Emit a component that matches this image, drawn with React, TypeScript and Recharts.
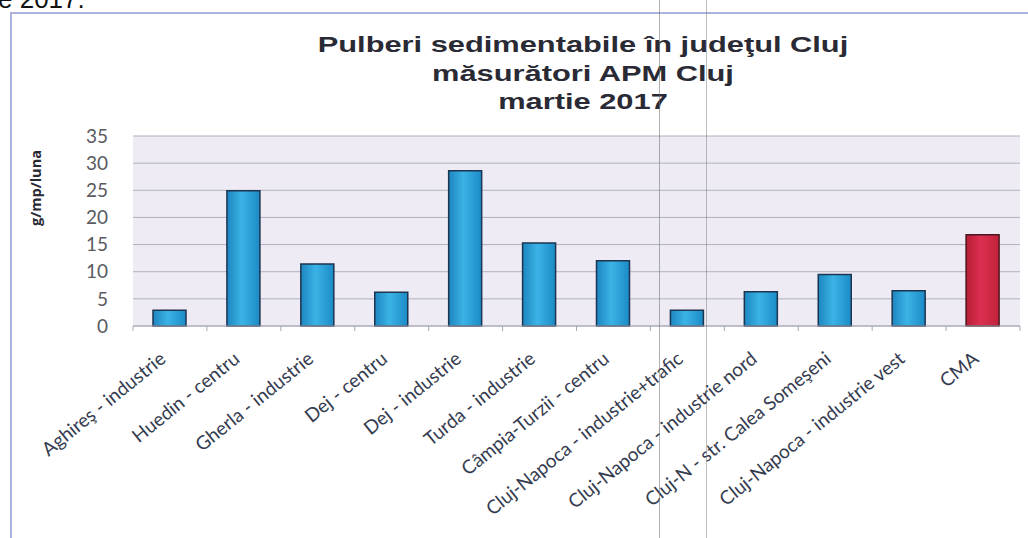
import { Bar, BarChart, CartesianGrid, Cell, XAxis, YAxis } from "recharts";

const stations = [
  "Aghireş - industrie",
  "Huedin - centru",
  "Gherla - industrie",
  "Dej - centru",
  "Dej - industrie",
  "Turda - industrie",
  "Câmpia-Turzii - centru",
  "Cluj-Napoca - industrie+trafic",
  "Cluj-Napoca - industrie nord",
  "Cluj-N - str. Calea Someşeni",
  "Cluj-Napoca - industrie vest",
  "CMA",
];
const values = [2.9, 24.9, 11.4, 6.2, 28.6, 15.3, 12.0, 2.9, 6.3, 9.5, 6.5, 16.8];
const yTicks = [0, 5, 10, 15, 20, 25, 30, 35];
const titleLines = ["Pulberi sedimentabile în judeţul Cluj", "măsurători APM Cluj", "martie 2017"];

const data = stations.map((name, i) => ({ name, value: values[i] }));

const XTick = (props: any) => {
  const { x, y, payload, index, width, visibleTicksCount } = props;
  const step = width && visibleTicksCount ? width / visibleTicksCount : 74;
  const isLast = index === stations.length - 1;
  return (
    <g>
      <line x1={x - step / 2} x2={x - step / 2} y1={y} y2={y + 5} stroke="#a8a8b8" />
      {isLast && <line x1={x + step / 2} x2={x + step / 2} y1={y} y2={y + 5} stroke="#a8a8b8" />}
      <text
        transform={`translate(${x - 3},${y + 35}) rotate(-39)`}
        textAnchor="end"
        fontSize={19}
        fill="#353c50"
        fontFamily="Lato, sans-serif"
      >
        {payload.value}
      </text>
    </g>
  );
};

const App = () => {
  return (
    <div style={{ position: "absolute", left: 0, top: 0, width: 1028, height: 538, background: "#fff", overflow: "hidden" }}>
      {/* bit of the document text above the chart */}
      <div style={{ position: "absolute", left: -2, top: -16, fontFamily: "'Liberation Sans', Arial, sans-serif", fontSize: 26, color: "#111" }}>
        e 2017.
      </div>
      {/* chart frame */}
      <div style={{ position: "absolute", left: 10, top: 12, width: 1040, height: 560, borderLeft: "2px solid #aab4dc", borderTop: "2px solid #aab4dc" }} />

      <div style={{ position: "absolute", left: 283, top: 31, width: 600, textAlign: "center", fontFamily: "'Liberation Sans', Arial, sans-serif", fontWeight: "bold", fontSize: 22, lineHeight: "28.5px", color: "#2a2a35", transform: "scaleX(1.4)", transformOrigin: "300px 0" }}>
        {titleLines.map((t) => (
          <div key={t}>{t}</div>
        ))}
      </div>

      <div style={{ position: "absolute", left: 0, top: 0 }}>
        <BarChart width={1028} height={538} data={data} margin={{ top: 136, right: 8, bottom: 182, left: 0 }} barSize={33}>
          <defs>
            <linearGradient id="blueBar" x1="0" y1="0" x2="1" y2="0">
              <stop offset="0%" stopColor="#1d86c0" />
              <stop offset="45%" stopColor="#3bb3e6" />
              <stop offset="100%" stopColor="#1b8ac6" />
            </linearGradient>
            <linearGradient id="redBar" x1="0" y1="0" x2="1" y2="0">
              <stop offset="0%" stopColor="#b81c35" />
              <stop offset="45%" stopColor="#dc3050" />
              <stop offset="100%" stopColor="#c0213b" />
            </linearGradient>
          </defs>
          <CartesianGrid vertical={false} stroke="#b0b0c0" fill="#eeebf4" fillOpacity={1} />
          <XAxis
            dataKey="name"
            interval={0}
            tickSize={0}
            tickMargin={0}
            tickLine={false}
            axisLine={{ stroke: "#a8a8b8" }}
            tick={<XTick />}
          />
          <YAxis
            width={133}
            domain={[0, 35]}
            ticks={yTicks}
            interval={0}
            tickSize={0}
            tickMargin={25}
            axisLine={false}
            tickLine={false}
            tick={{ fontSize: 19, fill: "#5a5a60", fontFamily: "Lato, sans-serif" }}
            label={{
              content: () => (
                <text
                  transform="translate(41,188) rotate(-90)"
                  textAnchor="middle"
                  fontSize={14.5}
                  fontWeight="bold"
                  fill="#2a2a35"
                  fontFamily="'Open Sans', sans-serif"
                >
                  g/mp/luna
                </text>
              ),
            }}
          />
          <Bar dataKey="value" isAnimationActive={false} stroke="#1c3550" strokeWidth={1.5}>
            {data.map((d) => (
              <Cell key={d.name} fill={d.name === "CMA" ? "url(#redBar)" : "url(#blueBar)"} stroke={d.name === "CMA" ? "#4a1820" : "#1c3550"} />
            ))}
          </Bar>
        </BarChart>
      </div>

      {/* scanner streaks */}
      <div style={{ position: "absolute", left: 659, top: 0, width: 1, height: 538, background: "rgba(110,110,110,0.55)" }} />
      <div style={{ position: "absolute", left: 706, top: 0, width: 1, height: 538, background: "rgba(110,110,110,0.45)" }} />
    </div>
  );
};

export default App;
